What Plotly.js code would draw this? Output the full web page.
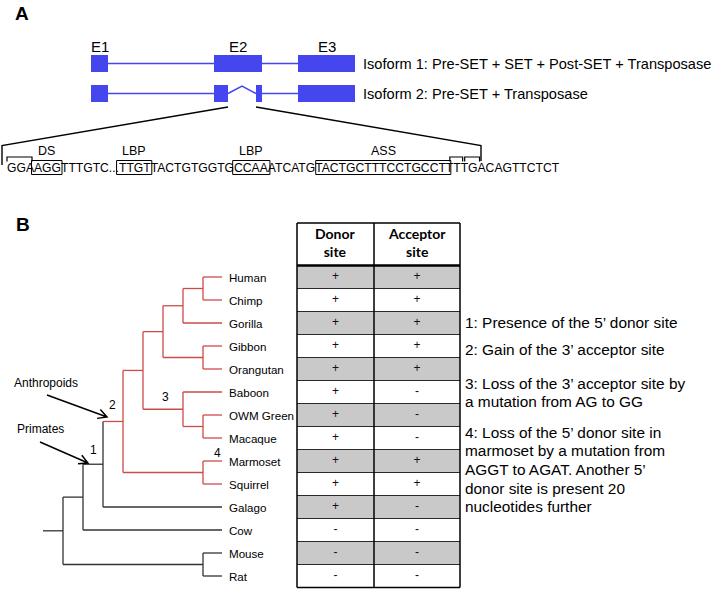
<!DOCTYPE html>
<html><head><meta charset="utf-8">
<script src="https://cdn.plot.ly/plotly-3.0.1.min.js"></script>
<style>html,body{margin:0;padding:0;background:#fff}#chart{width:716px;height:591px}</style>
</head><body><div id="chart"></div>
<script>
// ================= DATA =================
// Panel A: gene model (exon coordinates along the drawn locus)
const exonLabels = ["E1", "E2", "E3"];
const isoformLabels = ["Isoform 1: Pre-SET + SET + Post-SET + Transposase", "Isoform 2: Pre-SET + Transposase"];
const iso1Exons = [[91, 108], [214, 262], [298, 355]];
const iso2Exons = [[91, 108], [214, 228], [256, 262], [298, 355]];
// Panel A: sequence and motifs (character indices, inclusive)
const sequence = "GGAAGGTTTGTC...TTGTTACTGTGGTGCCAAATCATGTACTGCTTTCCTGCCTTTTGACAGTTCTCT";
const motifLabels = ["DS", "LBP", "LBP", "ASS"];
const motifStart = [3, 15, 29, 39];
const motifEnd = [5, 18, 32, 54];
const bracketStart = [0, 55, 57];
const bracketEnd = [2, 56, 58];
// Panel B: species, table values, tree
const species = ["Human", "Chimp", "Gorilla", "Gibbon", "Orangutan", "Baboon", "OWM Green", "Macaque", "Marmoset", "Squirrel", "Galago", "Cow", "Mouse", "Rat"];
const donorSite = ["+", "+", "+", "+", "+", "+", "+", "+", "+", "+", "+", "-", "-", "-"];
const acceptorSite = ["+", "+", "+", "+", "+", "-", "-", "-", "+", "+", "-", "-", "-", "-"];
const tableHeaders = ["Donor<br>site", "Acceptor<br>site"];
const tree = [[[[[[[["Human", "Chimp"], "Gorilla"], ["Gibbon", "Orangutan"]], ["Baboon", ["OWM Green", "Macaque"]]], ["Marmoset", "Squirrel"]], "Galago"], "Cow"], ["Mouse", "Rat"]];
const anthropoids = ["Human", "Chimp", "Gorilla", "Gibbon", "Orangutan", "Baboon", "OWM Green", "Macaque", "Marmoset", "Squirrel"];
const cladeLabels = ["Anthropoids", "Primates"];
const eventLabels = ["1", "2", "3", "4"];
const notes = [
  "1: Presence of the 5\u2019 donor site",
  "2: Gain of the 3\u2019 acceptor site",
  "3: Loss of the 3\u2019 acceptor site by<br>a mutation from AG to GG",
  "4: Loss of the 5\u2019 donor site in<br>marmoset by a mutation from<br>AGGT to AGAT. Another 5\u2019<br>donor site is present 20<br>nucleotides further"
];

// ================= LAYOUT / STYLE =================
const FONT = "Liberation Sans, Arial, sans-serif";
const BLUE = "#4646ee", RED = "#cc4b4b", DARK = "#2a2a2a", GREY = "#c9c9c9";
const shapes = [], annotations = [], traces = [];
function txt(x, y, text, size, opts) {
  annotations.push(Object.assign({x: x, y: y, xref: "x", yref: "y", text: text, showarrow: false,
    xanchor: "center", yanchor: "middle", borderpad: 0,
    font: {family: FONT, size: size, color: "#000"}}, opts || {}));
}
function line(x0, y0, x1, y1, color, width) {
  shapes.push({type: "line", xref: "x", yref: "y", x0: x0, y0: y0, x1: x1, y1: y1, line: {color: color, width: width}});
}
function rect(x0, y0, x1, y1, fill, lc, lw) {
  shapes.push({type: "rect", xref: "x", yref: "y", x0: x0, y0: y0, x1: x1, y1: y1, fillcolor: fill, line: {color: lc || fill, width: lw || 0}, layer: "below"});
}

// Panel labels
txt(22, 13, "<b>A</b>", 19);
txt(23, 224, "<b>B</b>", 19);

// ----- Gene model -----
const rowY = [63.5, 93.5], exonH = 17;
[iso1Exons, iso2Exons].forEach((exons, r) => {
  const y = rowY[r];
  for (let i = 0; i < exons.length - 1; i++) {
    const a = exons[i][1], b = exons[i + 1][0];
    const insideExon = iso1Exons.some(e => a > e[0] && b < e[1]);
    if (insideExon && r === 1) {
      shapes.push({type: "path", xref: "x", yref: "y", path: `M ${a} ${y} L ${(a + b) / 2} ${y - 7.5} L ${b} ${y}`, line: {color: BLUE, width: 1.5}});
    } else line(a, y, b, y, BLUE, 1.5);
  }
  exons.forEach(e => rect(e[0], y - exonH / 2, e[1], y + exonH / 2, BLUE));
  txt(362, y, isoformLabels[r], 14.6, {xanchor: "left"});
});
iso1Exons.forEach((e, i) => txt((e[0] + e[1]) / 2, 46, exonLabels[i], 15));

// ----- Sequence -----
const SEQ_SIZE = 12.15;
const CW0 = {A: 8.004, C: 8.664, G: 9.336, T: 7.332, ".": 3.336};
const seqX0 = 6, seqY = 168;
function charX(i) { let x = seqX0; for (let k = 0; k < i; k++) x += CW0[sequence[k]] * SEQ_SIZE / 12; return x; }
txt(seqX0, seqY, sequence, SEQ_SIZE, {xanchor: "left"});
motifLabels.forEach((lab, i) => {
  const x0 = charX(motifStart[i]) - 1.5, x1 = charX(motifEnd[i] + 1) + 2;
  shapes.push({type: "rect", xref: "x", yref: "y", x0: x0, y0: 160.5, x1: x1, y1: 174.5, line: {color: "#000", width: 1}});
  txt((x0 + x1) / 2, 151, lab, 12.5);
});
bracketStart.forEach((s, i) => {
  const x0 = charX(s) + 1, x1 = charX(bracketEnd[i] + 1) - 1;
  shapes.push({type: "path", xref: "x", yref: "y", path: `M ${x0} 161.5 L ${x0} 157 L ${x1} 157 L ${x1} 161.5`, line: {color: "#000", width: 1.2}});
});
// zoom lines from skipped part of E2 to the sequence
const skipA = iso2Exons[1][1], skipB = iso2Exons[2][0];
shapes.push({type: "path", xref: "x", yref: "y", path: `M ${skipA} 107 L 2 145.5 L 2 165`, line: {color: "#000", width: 1.4}});
shapes.push({type: "path", xref: "x", yref: "y", path: `M ${skipB} 107 L 481 145.5 L 481 161`, line: {color: "#000", width: 1.4}});

// ----- Panel B: table -----
const row0 = 277, rowH = 23, colX = [297, 374, 460], headTop = 223;
const rowYs = species.map((s, i) => row0 + i * rowH);
const headBot = rowYs[0] - rowH / 2;
const tabBot = rowYs[rowYs.length - 1] + rowH / 2;
rect(colX[0], headTop, colX[2], headBot, "#fff");
rowYs.forEach((y, i) => rect(colX[0], y - rowH / 2, colX[2], y + rowH / 2, i % 2 === 0 ? GREY : "#fff"));
rowYs.forEach((y, i) => { if (i > 0) line(colX[0], y - rowH / 2, colX[2], y - rowH / 2, DARK, 1.2); });
line(colX[0], headTop, colX[2], headTop, "#000", 1.5);
line(colX[0], tabBot, colX[2], tabBot, "#000", 1.5);
line(colX[0], headBot, colX[2], headBot, "#000", 2.5);
colX.forEach(x => line(x, headTop, x, tabBot, "#000", 1.5));
tableHeaders.forEach((h, j) => txt((colX[j] + colX[j + 1]) / 2, 242, "<b>" + h + "</b>", 14, {font: {family: "Lato, Carlito, sans-serif", size: 14, color: "#000"}}));
traces.push({type: "scatter", mode: "text", hoverinfo: "skip",
  x: rowYs.map(() => (colX[0] + colX[1]) / 2).concat(rowYs.map(() => (colX[1] + colX[2]) / 2)),
  y: rowYs.concat(rowYs), text: donorSite.concat(acceptorSite),
  textfont: {family: FONT, size: 12, color: "#111"}});

// ----- Panel B: tree -----
const treeX0 = 43, step = 20, leafLevel = 9, leafEnd = 222;
const X = lv => treeX0 + step * lv;
function build(n) {
  if (typeof n === "string") return {leaf: true, name: n, level: leafLevel, y: rowYs[species.indexOf(n)], leaves: [n]};
  const ch = n.map(build);
  const level = Math.min(...ch.map(c => c.level)) - 1;
  return {leaf: false, children: ch, level: level, y: (ch[0].y + ch[ch.length - 1].y) / 2, leaves: [].concat(...ch.map(c => c.leaves))};
}
const root = build(tree);
const seg = {black: {x: [], y: []}, red: {x: [], y: []}};
const isRed = nd => nd.leaves.every(l => anthropoids.includes(l));
function add(col, x0, y0, x1, y1) { seg[col].x.push(x0, x1, null); seg[col].y.push(y0, y1, null); }
function walk(nd) {
  if (nd.leaf) return;
  const c = nd.children;
  add(isRed(nd) ? "red" : "black", X(nd.level), c[0].y, X(nd.level), c[c.length - 1].y);
  c.forEach(ch => {
    add(isRed(ch) ? "red" : "black", X(nd.level), ch.y, ch.leaf ? leafEnd : X(ch.level), ch.y);
    walk(ch);
  });
}
add("black", X(0), root.y, X(root.level), root.y);
walk(root);
traces.push({type: "scatter", mode: "lines", hoverinfo: "skip", x: seg.black.x, y: seg.black.y, line: {color: "#333", width: 1.3}, connectgaps: false});
traces.push({type: "scatter", mode: "lines", hoverinfo: "skip", x: seg.red.x, y: seg.red.y, line: {color: RED, width: 1.3}, connectgaps: false});
species.forEach((s, i) => txt(228, rowYs[i], s, 11.6, {xanchor: "left"}));

// clade arrows
function arrow(x0, y0, x1, y1) {
  const dx = x1 - x0, dy = y1 - y0, d = Math.hypot(dx, dy), ux = -dx / d, uy = -dy / d, a = 28 * Math.PI / 180, L = 10;
  const p = s => [x1 + L * (ux * Math.cos(s * a) - uy * Math.sin(s * a)), y1 + L * (ux * Math.sin(s * a) + uy * Math.cos(s * a))];
  const p1 = p(1), p2 = p(-1);
  shapes.push({type: "path", xref: "x", yref: "y", path: `M ${x0} ${y0} L ${x1} ${y1} M ${p1[0]} ${p1[1]} L ${x1} ${y1} L ${p2[0]} ${p2[1]}`, line: {color: "#000", width: 1.5}});
}
arrow(47, 395, 107, 417);
arrow(40, 442, 88, 463);
txt(46, 383, cladeLabels[0], 12);
txt(40, 429, cladeLabels[1], 12);
const evPos = [[93, 450], [112, 405], [165, 397], [217, 453]];
eventLabels.forEach((e, i) => txt(evPos[i][0], evPos[i][1], e, 12));

// notes
const noteY = [322, 349, 383, 432];
notes.forEach((n, i) => n.split("<br>").forEach((ln, k) => txt(464, noteY[i] + k * 18.7, ln, 15.4, {xanchor: "left"})));

Plotly.newPlot("chart", traces, {
  width: 716, height: 591, margin: {l: 0, r: 0, t: 0, b: 0},
  paper_bgcolor: "#fff", plot_bgcolor: "#fff", showlegend: false,
  xaxis: {range: [0, 716], visible: false, fixedrange: true},
  yaxis: {range: [591, 0], visible: false, fixedrange: true},
  shapes: shapes, annotations: annotations
}, {staticPlot: true, displayModeBar: false});
</script></body></html>
